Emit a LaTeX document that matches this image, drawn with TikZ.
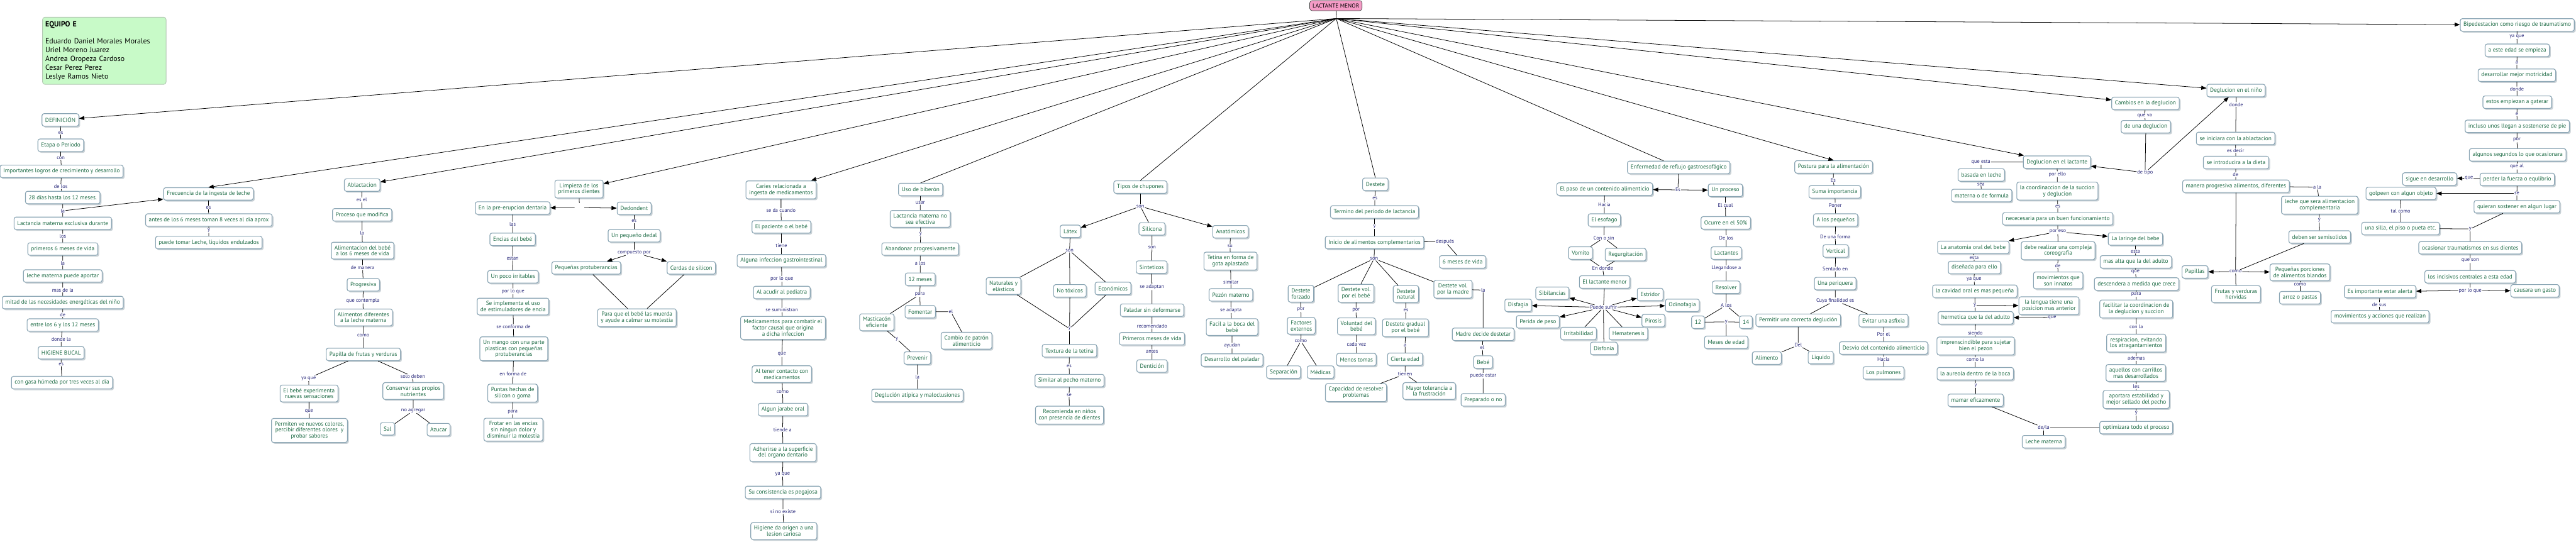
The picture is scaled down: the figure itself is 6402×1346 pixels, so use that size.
\documentclass[tikz,border=0pt]{standalone}
\usepackage{fontspec}
\setmainfont{PT Sans}
\usetikzlibrary{arrows.meta,shadows}
\definecolor{nodetext}{HTML}{1D6B45}
\definecolor{bordc}{HTML}{8AA5B4}
\definecolor{shadowc}{HTML}{C9D1D6}
\definecolor{labc}{HTML}{27277A}
\definecolor{rootfill}{HTML}{F59BC6}
\definecolor{teamfill}{HTML}{C8FAC8}
\definecolor{teamborder}{HTML}{B4C8B4}
\newcommand\cmnodefont{\fontsize{14.5}{15.2}\selectfont}
\newcommand\cmlabfont{\fontsize{13}{14}\selectfont}
\newcommand\cmteamfont{\fontsize{18.5}{21.7}\selectfont}
\begin{document}
\begin{tikzpicture}[x=1pt,y=-1pt,
 cn/.style={draw=bordc, line width=1.8pt, rounded corners=5pt, fill=white, text=nodetext, font=\cmnodefont, align=center, inner xsep=8pt, inner ysep=8pt, minimum height=31pt, drop shadow={shadow xshift=3.5pt, shadow yshift=-3.5pt, fill=shadowc, opacity=1}},
 lab/.style={text=labc, font=\cmlabfont, inner sep=1.2pt},
 ln/.style={line width=1.2pt, draw=black},
 arr/.style={-{Triangle[length=13pt,width=10pt]}}
]
\fill[white] (0,0) rectangle (6402,1346);
\useasboundingbox (0,0) rectangle (6402,1346);

% team box and root
\node[draw=teamborder, line width=1.5pt, fill=teamfill, rounded corners=6pt, anchor=north west, minimum width=307pt, minimum height=167pt, align=left, inner xsep=7pt, inner ysep=8pt, font=\cmteamfont, text=black, text width=293pt] (team) at (105,42) {\textbf{EQUIPO E}\\[21.7pt]Eduardo Daniel Morales Morales\\Uriel Moreno Juarez\\Andrea Oropeza Cardoso\\Cesar Perez Perez\\Leslye Ramos Nieto};
\node[draw=black!75, line width=1pt, fill=rootfill, rounded corners=6pt, font=\cmnodefont, text=black, minimum height=25pt, inner xsep=7pt] (root) at (3320,14) {LACTANTE MENOR};
\coordinate (hub) at (3321,46);

% left column
\node[cn] (defin) at (150,298) {DEFINICIÓN};
\node[lab] (Les1) at (151,330) {es};
\node[cn] (etapa) at (151,361) {Etapa o Periodo};
\node[lab] (Lcon) at (151,393) {con};
\node[cn] (logros) at (153,426) {Importantes logros de crecimiento y desarrollo};
\node[lab] (Ldelos) at (151,464) {de los};
\node[cn] (dias) at (156,491) {28 días hasta los 12 meses.};
\node[lab] (Lla1) at (156,524) {la};
\node[cn] (lactex) at (156,555) {Lactancia materna exclusiva durante};
\node[lab] (Llos) at (156,587) {los};
\node[cn] (prim6) at (156,619) {primeros 6 meses de vida};
\node[lab] (Lla2) at (156,654) {la};
\node[cn] (lecheap) at (156,686) {leche materna puede aportar};
\node[lab] (Lmasde) at (156,721) {mas de la};
\node[cn] (mitad) at (156,752) {mitad de las necesidades energéticas del niño};
\node[lab] (Lde1) at (156,782) {de};
\node[cn] (entre) at (156,808) {entre los 6 y los 12 meses};
\node[lab] (Ldondela) at (152,844) {donde la};
\node[cn] (higiene) at (152,877) {HIGIENE BUCAL};
\node[lab] (Les2) at (152,906) {es};
\node[cn] (gasa) at (154,951) {con gasa húmeda por tres veces al día};

% frecuencia
\node[cn] (frec) at (518,482) {Frecuencia de la ingesta de leche};
\node[lab] (Les3) at (518,516) {es};
\node[cn] (antes) at (519,547) {antes de los 6 meses toman 8 veces al dia aprox};
\node[lab] (Ly1) at (519,573) {y};
\node[cn] (puede) at (519,603) {puede tomar Leche, liquidos endulzados};

% ablactacion
\node[cn] (ablac) at (900,460) {Ablactacion};
\node[lab] (Lesel) at (899,497) {es el};
\node[cn] (proceso) at (900,534) {Proceso que modifica};
\node[lab] (Lla3) at (900,579) {la};
\node[cn] (alimbebe) at (901,623) {Alimentacion del bebé\\a los 6 meses de vida};
\node[lab] (Ldemanera) at (901,665) {de manera};
\node[cn] (progres) at (903,708) {Progresiva};
\node[lab] (Lquecont) at (902,747) {que contempla};
\node[cn] (alimdif) at (903,789) {Alimentos diferentes\\a la leche materna};
\node[lab] (Lcomo1) at (903,834) {como};
\node[cn] (papilla) at (903,881) {Papilla de frutas y verduras};
\node[lab] (Lyaque1) at (767,940) {ya qué};
\node[cn] (experim) at (768,978) {El bebé experimenta\\nuevas sensaciones};
\node[lab] (Lque1) at (768,1022) {que};
\node[cn] (permiten) at (769,1070) {Permiten ve nuevos colores,\\percibir diferentes olores~ y\\probar sabores};
\node[lab] (Lsolo) at (1026,936) {solo deben};
\node[cn] (conserv) at (1027,972) {Conservar sus propios\\nutrientes};
\node[lab] (Lnoagr) at (1027,1021) {no agregar};
\node[cn] (sal) at (963,1066) {Sal};
\node[cn] (azucar) at (1090,1068) {Azucar};

% limpieza
\node[cn] (limp) at (1439,470) {Limpieza de los\\primeros dientes};
\node[minimum width=24pt, minimum height=22pt, inner sep=0pt] (blank) at (1440,516) {};
\node[cn] (preerup) at (1274,517) {En la pre-erupcion dentaria};
\node[lab] (Llas) at (1274,557) {las};
\node[cn] (encias) at (1274,595) {Encias del bebé};
\node[lab] (Lestan) at (1274,642) {estan};
\node[cn] (irrit) at (1275,688) {Un poco irritables};
\node[lab] (Lporloque1) at (1275,724) {por lo que};
\node[cn] (seimpl) at (1275,762) {Se implementa el uso\\de estimuladores de encia};
\node[lab] (Lseconf) at (1276,812) {se conforma de};
\node[cn] (mango) at (1277,867) {Un mango con una parte\\plasticas con pequeñas\\protuberancias};
\node[lab] (Lenforma) at (1275,930) {en forma de};
\node[cn] (puntas) at (1274,977) {Puntas hechas de\\silicon o goma};
\node[lab] (Lpara1) at (1274,1024) {para};
\node[cn] (frotar) at (1276,1068) {Frotar en las encias\\sin ningun dolor y\\disminuir la molestia};
\node[cn] (dedon) at (1576,518) {Dedondent};
\node[lab] (Les4) at (1576,550) {es};
\node[cn] (dedal) at (1576,586) {Un pequeño dedal};
\node[lab] (Lcomp) at (1576,628) {compuesto por};
\node[cn] (protub) at (1457,666) {Pequeñas protuberancias};
\node[cn] (cerdas) at (1718,666) {Cerdas de silicon};
\node[cn] (paraque) at (1583,790) {Para que el bebé las muerda\\y ayude a calmar su molestia};

% caries
\node[cn] (caries) at (1941,472) {Caries relacionada a\\ingesta de medicamentos};
\node[lab] (Lseda) at (1941,523) {se da cuando};
\node[cn] (pacien) at (1942,564) {El paciente o el bebé};
\node[lab] (Ltiene) at (1942,610) {tiene};
\node[cn] (infecc) at (1942,648) {Alguna infeccion gastrointestinal};
\node[lab] (Lporloque2) at (1943,693) {por lo que};
\node[cn] (pediat) at (1943,727) {Al acudir al pediatra};
\node[lab] (Lsesum) at (1943,770) {se suministran};
\node[cn] (medic) at (1946,815) {Medicamentos para combatir el\\factor causal que origina\\a dicha infeccion};
\node[lab] (Lque2) at (1943,881) {que};
\node[cn] (contacto) at (1943,930) {Al tener contacto con\\medicamentos};
\node[lab] (Lcomo2) at (1945,975) {como};
\node[cn] (jarabe) at (1946,1018) {Algun jarabe oral};
\node[lab] (Ltiende) at (1945,1068) {tiende a};
\node[cn] (adher) at (1946,1125) {Adherirse a la superficie\\del organo dentario};
\node[lab] (Lyaque2) at (1945,1179) {ya que};
\node[cn] (consist) at (1946,1224) {Su consistencia es pegajosa};
\node[lab] (Lsino) at (1946,1272) {si no existe};
\node[cn] (higori) at (1948,1320) {Higiene da origen a una\\lesion cariosa};

% biberon
\node[cn] (biber) at (2288,471) {Uso de biberón};
\node[lab] (Lusar) at (2287,504) {usar};
\node[cn] (noefec) at (2287,544) {Lactancia materna no\\sea efectiva};
\node[lab] (Ly2) at (2288,582) {y};
\node[cn] (abandon) at (2287,619) {Abandonar progresivamente};
\node[lab] (Lalos1) at (2287,654) {a los};
\node[cn] (meses12) at (2287,694) {12 meses};
\node[lab] (Lpara2) at (2286,732) {para};
\node[cn] (fomentar) at (2287,775) {Fomentar};
\node[lab] (Lel1) at (2363,775) {el};
\node[cn] (cambiopat) at (2402,847) {Cambio de patrón\\alimenticio};
\node[cn] (mastic) at (2179,801) {Masticacón\\eficiente};
\node[lab] (Ly3) at (2229,843) {y};
\node[cn] (prevenir) at (2280,890) {Prevenir};
\node[lab] (Lla4) at (2280,937) {la};
\node[cn] (deglat) at (2280,983) {Deglución atípica y maloclusiones};

% tipos de chupones
\node[cn] (tipos) at (2834,465) {Tipos de chupones};
\node[lab] (Lson1) at (2834,513) {son};
\node[cn] (latex) at (2660,575) {Látex};
\node[cn] (silic) at (2863,569) {Silicona};
\node[cn] (anat) at (3058,576) {Anatómicos};
\node[lab] (Lson2) at (2658,623) {son};
\node[cn] (natur) at (2494,711) {Naturales y\\elásticos};
\node[cn] (notox) at (2659,723) {No tóxicos};
\node[cn] (econ) at (2766,717) {Económicos};
\node[lab] (Ly4) at (2658,817) {y};
\node[cn] (textura) at (2658,872) {Textura de la tetina};
\node[lab] (Les5) at (2657,910) {es};
\node[cn] (similar) at (2658,946) {Similar al pecho materno};
\node[lab] (Lse1) at (2657,982) {se};
\node[cn] (recom) at (2658,1032) {Recomienda en niños\\con presencia de dientes};
\node[lab] (Lson3) at (2863,615) {son};
\node[cn] (sintet) at (2862,664) {Sinteticos};
\node[lab] (Lseadapt) at (2863,714) {se adaptan};
\node[cn] (paladar) at (2863,771) {Paladar sin deformarse};
\node[lab] (Lrecom) at (2863,811) {recomendado};
\node[cn] (primmes) at (2863,842) {Primeros meses de vida};
\node[lab] (Lantes) at (2863,873) {antes};
\node[cn] (denticion) at (2863,910) {Dentición};
\node[lab] (Lsu) at (3057,612) {su};
\node[cn] (tetina) at (3058,649) {Tetina en forma de\\gota aplastada};
\node[lab] (Lsimilar) at (3059,701) {similar};
\node[cn] (pezon) at (3059,733) {Pezón materno};
\node[lab] (Lseadapta) at (3059,771) {se adapta};
\node[cn] (facil) at (3062,813) {Facil a la boca del\\bebé};
\node[lab] (Layudan) at (3062,859) {ayudan};
\node[cn] (desarpal) at (3062,895) {Desarrollo del paladar};

% destete
\node[cn] (destete) at (3418,458) {Destete};
\node[lab] (Les6) at (3417,493) {es};
\node[cn] (termino) at (3416,527) {Termino del periodo de lactancia};
\node[lab] (Ly5) at (3416,563) {y};
\node[cn] (inicio) at (3416,603) {Inicio de alimentos complementarios};
\node[lab] (Ldespues) at (3591,600) {después};
\node[cn] (meses6) at (3635,651) {6 meses de vida};
\node[lab] (Lson4) at (3415,643) {son};
\node[cn] (forzado) at (3233,730) {Destete\\forzado};
\node[lab] (Lpor1) at (3233,770) {por};
\node[cn] (factores) at (3234,810) {Factores\\externos};
\node[lab] (Lcomo3) at (3233,848) {como};
\node[cn] (separ) at (3190,925) {Separación};
\node[cn] (medicas) at (3282,925) {Médicas};
\node[cn] (volbebe) at (3370,729) {Destete vol.\\por el bebé};
\node[lab] (Lpor2) at (3370,771) {por};
\node[cn] (voluntad) at (3371,811) {Voluntad del\\bebé};
\node[lab] (Lcadavez) at (3371,856) {cada vez};
\node[cn] (menos) at (3371,894) {Menos tomas};
\node[cn] (natural) at (3494,731) {Destete\\natural};
\node[lab] (Les7) at (3494,771) {es};
\node[cn] (gradual) at (3493,815) {Destete gradual\\por el bebé};
\node[lab] (La1) at (3492,858) {a};
\node[cn] (cierta) at (3492,893) {Cierta edad};
\node[lab] (Ltienen) at (3492,930) {tienen};
\node[cn] (capac) at (3370,976) {Capacidad de resolver\\problemas};
\node[cn] (mayor) at (3552,972) {Mayor tolerancia a\\la frustración};
\node[cn] (volmadre) at (3611,719) {Destete vol.\\por la madre};
\node[lab] (Lla5) at (3686,721) {la};
\node[cn] (madre) at (3686,831) {Madre decide destetar};
\node[lab] (Lel2) at (3684,864) {el};
\node[cn] (bebe) at (3686,900) {Bebé};
\node[lab] (Lpuedeestar) at (3686,934) {puede estar};
\node[cn] (preparado) at (3686,994) {Preparado o no};

% reflujo
\node[cn] (erge) at (4172,416) {Enfermedad de reflujo gastroesofágico};
\node[lab] (LEs1) at (4170,472) {Es};
\node[cn] (paso) at (3988,470) {El paso de un contenido alimenticio};
\node[lab] (Lhacia1) at (3987,509) {Hacia};
\node[cn] (esofago) at (3987,547) {El esofago};
\node[lab] (Lconosin) at (3986,591) {Con o sin};
\node[cn] (vomito) at (3928,629) {Vomito};
\node[cn] (regurg) at (4040,633) {Regurgitación};
\node[lab] (Lendonde) at (3983,667) {En donde};
\node[cn] (lactmen) at (3988,701) {El lactante menor};
\node[lab] (Lpuede) at (3985,764) {Puede sufrir};
\node[cn] (sibil) at (3858,729) {Sibilancias};
\node[cn] (disfag) at (3773,759) {Disfagia};
\node[cn] (perida) at (3822,800) {Perida de peso};
\node[cn] (irritab) at (3923,829) {Irritabilidad};
\node[cn] (disfon) at (3986,866) {Disfonía};
\node[cn] (hemat) at (4047,829) {Hematenesis};
\node[cn] (pirosis) at (4109,797) {Pirosis};
\node[cn] (odino) at (4181,759) {Odinofagia};
\node[cn] (estridor) at (4101,732) {Estridor};
\node[cn] (unproc) at (4288,473) {Un proceso};
\node[lab] (Lelcual) at (4288,510) {El cual};
\node[cn] (ocurre) at (4289,554) {Ocurre en el 50\%};
\node[lab] (Ldelos2) at (4290,591) {De los};
\node[cn] (lactantes) at (4290,629) {Lactantes};
\node[lab] (Llleg) at (4290,667) {Llegandose a};
\node[cn] (resolver) at (4290,714) {Resolver};
\node[lab] (Lalos2) at (4290,759) {A los};
\node[cn] (n12) at (4220,801) {12};
\node[cn] (n14) at (4339,801) {14};
\node[lab] (Ly6) at (4290,800) {y};
\node[cn] (mesesedad) at (4290,851) {Meses de edad};

% postura
\node[cn] (postura) at (4557,415) {Postura para la alimentación};
\node[lab] (LEs2) at (4556,448) {Es};
\node[cn] (suma) at (4560,477) {Suma importancia};
\node[lab] (Lponer) at (4561,510) {Poner};
\node[cn] (pequenos) at (4562,547) {A los pequeños};
\node[lab] (Ldeuna) at (4561,588) {De una forma};
\node[cn] (vertical) at (4562,624) {Vertical};
\node[lab] (Lsentado) at (4561,669) {Sentado en};
\node[cn] (periquera) at (4561,705) {Una periquera};
\node[lab] (Lcuya) at (4561,747) {Cuya finalidad es};
\node[cn] (permitir) at (4469,796) {Permitir una correcta deglución};
\node[lab] (Ldel) at (4469,858) {Del};
\node[cn] (alimento) at (4391,890) {Alimento};
\node[cn] (liquido) at (4525,889) {Liquido};
\node[cn] (evitar) at (4681,797) {Evitar una asfixia};
\node[lab] (Lporel) at (4681,831) {Por el};
\node[cn] (desvio) at (4681,865) {Desvio del contenido alimenticio};
\node[lab] (Lhacia2) at (4681,893) {Hacia};
\node[cn] (pulmones) at (4681,927) {Los pulmones};

% deglucion lactante
\node[cn] (deglac) at (5112,403) {Deglucion en el lactante};
\node[lab] (Lqueesta) at (4923,403) {que esta};
\node[cn] (basada) at (4924,435) {basada en leche};
\node[lab] (Lsea) at (4923,458) {sea};
\node[cn] (materna) at (4925,486) {materna o de formula};
\node[lab] (Lporello) at (5113,433) {por ello};
\node[cn] (coord) at (5113,475) {la coordinaccion de la succion\\y deglucion};
\node[lab] (Les8) at (5114,513) {es};
\node[cn] (necesaria) at (5114,544) {nececesaria para un buen funcionamiento};
\node[lab] (Lporeso) at (5114,576) {por eso};
\node[cn] (anatomia) at (4904,615) {La anatomia oral del bebe};
\node[lab] (Lesta1) at (4906,640) {esta};
\node[cn] (disenada) at (4907,665) {diseñada para ello};
\node[lab] (Lyaque3) at (4906,694) {ya que};
\node[cn] (cavidad) at (4908,724) {la cavidad oral es mas pequeña};
\node[lab] (Ly7) at (4908,759) {y};
\node[cn] (lengua) at (5092,760) {la lengua tiene una\\posicion mas anterior};
\node[lab] (Lque3) at (5100,789) {que};
\node[cn] (hermet) at (4910,790) {hermetica que la del adulto};
\node[lab] (Lsiendo) at (4909,827) {siendo};
\node[cn] (impresc) at (4910,860) {imprenscindible para sujetar\\bien el pezon};
\node[lab] (Lcomola) at (4909,894) {como la};
\node[cn] (aureola) at (4909,929) {la aureola dentro de la boca};
\node[lab] (Ly8) at (4910,958) {y};
\node[cn] (mamar) at (4910,995) {mamar eficazmente};
\node[lab] (Ldela) at (5079,1063) {de/la};
\node[cn] (lechemat) at (5079,1098) {Leche materna};
\node[cn] (debe) at (5115,623) {debe realizar una compleja\\coreografía};
\node[lab] (Lde2) at (5114,660) {de};
\node[cn] (movinn) at (5115,697) {movimientos que\\son innatos};
\node[cn] (laringe) at (5307,594) {La laringe del bebe};
\node[lab] (Lesta2) at (5307,625) {esta};
\node[cn] (masalta) at (5308,651) {mas alta que la del adulto};
\node[lab] (Lque4) at (5307,676) {que};
\node[cn] (descend) at (5310,706) {descendera a medida que crece};
\node[lab] (Lpara3) at (5309,732) {para};
\node[cn] (facilit) at (5309,768) {facilitar la coordinacion de\\la deglucion y succion};
\node[lab] (Lconla) at (5309,812) {con la};
\node[cn] (respir) at (5309,853) {respiracion, evitando\\los atragantamientos};
\node[lab] (Lademas) at (5309,891) {ademas};
\node[cn] (aquellos) at (5308,927) {aquellos con carrillos\\mas desarrollados};
\node[lab] (Lles) at (5309,961) {les};
\node[cn] (aportara) at (5309,993) {aportara estabilidad y\\mejor sellado del pecho};
\node[lab] (Ly9) at (5309,1027) {y};
\node[cn] (optim) at (5309,1063) {optimizara todo el proceso};

% cambios
\node[cn] (cambios) at (5332,257) {Cambios en la deglucion};
\node[lab] (Lqueva) at (5330,288) {que va};
\node[cn] (deuna) at (5333,315) {de una deglucion};
\node[lab] (Ldetipo) at (5331,429) {de tipo};

% deglucion nino
\node[cn] (degnino) at (5557,225) {Deglucion en el niño};
\node[lab] (Ldonde1) at (5557,260) {donde};
\node[cn] (iniciara) at (5556,344) {se iniciara con la ablactacion};
\node[lab] (Lesdecir) at (5556,374) {es decir};
\node[cn] (introd) at (5557,404) {se introducira a la dieta};
\node[lab] (Lde3) at (5556,434) {de};
\node[cn] (manera) at (5557,463) {manera progresiva alimentos, diferentes};
\node[lab] (Lala) at (5759,465) {a la};
\node[cn] (lechesera) at (5765,510) {leche que sera alimentacion\\complementaria};
\node[lab] (Ly10) at (5764,547) {y};
\node[cn] (semisol) at (5765,589) {deben ser semisolidos};
\node[lab] (Lcomo4) at (5556,675) {como};
\node[cn] (papillas) at (5455,676) {Papillas};
\node[cn] (porciones) at (5716,677) {Pequeñas porciones\\de alimentos blandos};
\node[cn] (frutas) at (5557,731) {Frutas y verduras\\hervidas};
\node[lab] (Lcomo5) at (5716,707) {como};
\node[cn] (arroz) at (5716,740) {arroz o pastas};

% bipedestacion
\node[cn] (biped) at (6256,62) {Bipedestacion como riesgo de traumatismo};
\node[lab] (Lyaque4) at (6255,91) {ya que};
\node[cn] (edad) at (6256,125) {a este edad se empieza};
\node[lab] (La2) at (6255,156) {a};
\node[cn] (motric) at (6255,187) {desarrollar mejor motricidad};
\node[lab] (Ldonde2) at (6255,221) {donde};
\node[cn] (gaterar) at (6256,254) {estos empiezan a gaterar};
\node[lab] (Le) at (6255,284) {e};
\node[cn] (incluso) at (6256,314) {incluso unos llegan a sostenerse de pie};
\node[lab] (Lpor3) at (6255,348) {por};
\node[cn] (segundos) at (6257,385) {algunos segundos lo que ocasionara};
\node[lab] (Lqueal) at (6255,414) {que al};
\node[cn] (perder) at (6256,446) {perder la fuerza o equlibrio};
\node[lab] (Lque5) at (6136,443) {que};
\node[cn] (sigue) at (6038,445) {sigue en desarrollo};
\node[lab] (Lse2) at (6255,481) {se};
\node[cn] (golpeen) at (5967,481) {golpeen con algun objeto};
\node[lab] (Ltalcomo) at (5966,524) {tal como};
\node[cn] (silla) at (5966,568) {una silla, el piso o pueta etc.};
\node[cn] (quieran) at (6255,514) {quieran sostener en algun lugar};
\node[lab] (Ly11) at (6139,569) {y};
\node[cn] (ocasion) at (6139,616) {ocasionar traumatismos en sus dientes};
\node[lab] (Lqueson) at (6139,648) {que son};
\node[cn] (incisivos) at (6139,688) {los incisivos centrales a esta edad};
\node[lab] (Lporloque3) at (6139,722) {por lo que};
\node[cn] (alerta) at (5915,725) {Es importante estar alerta};
\node[lab] (Ldesus) at (5913,757) {de sus};
\node[cn] (movacc) at (5915,787) {movimientos y acciones que realizan};
\node[cn] (gasto) at (6300,723) {causara un gasto};

% ---------------- connectors ----------------
\draw[ln] (root) -- (hub);
\draw[ln,arr] (hub) -- (defin);
\draw[ln,arr] (hub) -- (frec.north);
\draw[ln,arr] (hub) -- (ablac);
\draw[ln,arr] (hub) -- (limp);
\draw[ln,arr] (hub) -- (caries);
\draw[ln] (hub) -- (biber.north);
\draw[ln] (hub) -- (tipos.north);
\draw[ln] (hub) -- (destete.north);
\draw[ln] (hub) -- (erge);
\draw[ln,arr] (hub) -- (postura.north);
\draw[ln,arr] (hub) -- (deglac);
\draw[ln,arr] (hub) -- (cambios);
\draw[ln,arr] (hub) -- (degnino);
\draw[ln,arr] (hub) -- (biped);

\draw[ln] (defin) -- (Les1) -- (etapa) -- (Lcon) -- (logros) -- (Ldelos) -- (dias) -- (Lla1) -- (lactex) -- (Llos) -- (prim6) -- (Lla2) -- (lecheap) -- (Lmasde) -- (mitad) -- (Lde1) -- (entre) -- (Ldondela) -- (higiene) -- (Les2) -- (gasa);
\draw[ln,arr] (Lla1) -- (frec);
\draw[ln] (frec) -- (Les3) -- (antes) -- (Ly1) -- (puede);

\draw[ln] (ablac) -- (Lesel) -- (proceso) -- (Lla3) -- (alimbebe) -- (Ldemanera) -- (progres) -- (Lquecont) -- (alimdif) -- (Lcomo1) -- (papilla);
\draw[ln] (papilla) -- (Lyaque1) -- (experim) -- (Lque1) -- (permiten);
\draw[ln] (papilla) -- (Lsolo) -- (conserv) -- (Lnoagr) -- (sal);
\draw[ln] (Lnoagr) -- (azucar);

\draw[ln] (limp) -- (blank);
\draw[ln,arr] (blank) -- (preerup);
\draw[ln,arr] (blank) -- (dedon);
\draw[ln] (preerup) -- (Llas) -- (encias) -- (Lestan) -- (irrit) -- (Lporloque1) -- (seimpl) -- (Lseconf) -- (mango) -- (Lenforma) -- (puntas) -- (Lpara1) -- (frotar);
\draw[ln] (dedon) -- (Les4) -- (dedal) -- (Lcomp);
\draw[ln,arr] (Lcomp) -- (protub);
\draw[ln,arr] (Lcomp) -- (cerdas);
\draw[ln] (protub) -- (paraque);
\draw[ln] (cerdas) -- (paraque);

\draw[ln] (caries) -- (Lseda) -- (pacien) -- (Ltiene) -- (infecc) -- (Lporloque2) -- (pediat) -- (Lsesum) -- (medic) -- (Lque2) -- (contacto) -- (Lcomo2) -- (jarabe) -- (Ltiende) -- (adher) -- (Lyaque2) -- (consist) -- (Lsino) -- (higori);

\draw[ln] (biber) -- (Lusar) -- (noefec) -- (Ly2) -- (abandon) -- (Lalos1) -- (meses12) -- (Lpara2) -- (fomentar) -- (Lel1) -- (cambiopat);
\draw[ln] (Lpara2) -- (mastic) -- (Ly3) -- (prevenir) -- (Lla4) -- (deglat);

\draw[ln] (tipos) -- (Lson1);
\draw[ln,arr] (Lson1) -- (latex);
\draw[ln] (Lson1) -- (silic);
\draw[ln,arr] (Lson1) -- (anat);
\draw[ln] (latex) -- (Lson2);
\draw[ln] (Lson2) -- (natur) -- (Ly4);
\draw[ln] (Lson2) -- (notox) -- (Ly4);
\draw[ln] (Lson2) -- (econ) -- (Ly4);
\draw[ln] (Ly4) -- (textura) -- (Les5) -- (similar) -- (Lse1) -- (recom);
\draw[ln] (silic) -- (Lson3) -- (sintet) -- (Lseadapt) -- (paladar) -- (Lrecom) -- (primmes) -- (Lantes) -- (denticion);
\draw[ln] (anat) -- (Lsu) -- (tetina) -- (Lsimilar) -- (pezon) -- (Lseadapta) -- (facil) -- (Layudan) -- (desarpal);

\draw[ln] (destete) -- (Les6) -- (termino) -- (Ly5) -- (inicio) -- (Ldespues) -- (meses6);
\draw[ln] (inicio) -- (Lson4);
\draw[ln] (Lson4) -- (forzado);
\draw[ln] (Lson4) -- (volbebe);
\draw[ln] (Lson4) -- (natural);
\draw[ln] (Lson4) -- (volmadre);
\draw[ln] (forzado) -- (Lpor1) -- (factores) -- (Lcomo3) -- (separ);
\draw[ln] (Lcomo3) -- (medicas);
\draw[ln] (volbebe) -- (Lpor2) -- (voluntad) -- (Lcadavez) -- (menos);
\draw[ln] (natural) -- (Les7) -- (gradual) -- (La1) -- (cierta) -- (Ltienen) -- (capac);
\draw[ln] (Ltienen) -- (mayor);
\draw[ln] (volmadre) -- (Lla5) -- (madre) -- (Lel2) -- (bebe) -- (Lpuedeestar) -- (preparado);

\draw[ln] (erge) -- (LEs1);
\draw[ln,arr] (LEs1) -- (paso);
\draw[ln,arr] (LEs1) -- (unproc);
\draw[ln] (paso) -- (Lhacia1) -- (esofago) -- (Lconosin) -- (vomito) -- (Lendonde) -- (lactmen) -- (Lpuede);
\draw[ln] (Lconosin) -- (regurg) -- (Lendonde);
\draw[ln,arr] (Lpuede) -- (sibil);
\draw[ln,arr] (Lpuede) -- (disfag);
\draw[ln,arr] (Lpuede) -- (perida);
\draw[ln,arr] (Lpuede) -- (estridor);
\draw[ln,arr] (Lpuede) -- (odino);
\draw[ln,arr] (Lpuede) -- (pirosis);
\draw[ln] (Lpuede) -- (irritab);
\draw[ln] (Lpuede) -- (disfon);
\draw[ln] (Lpuede) -- (hemat);
\draw[ln] (unproc) -- (Lelcual) -- (ocurre) -- (Ldelos2) -- (lactantes) -- (Llleg) -- (resolver) -- (Lalos2) -- (n12) -- (Ly6) -- (mesesedad);
\draw[ln] (Lalos2) -- (n14) -- (Ly6);

\draw[ln] (postura) -- (LEs2) -- (suma) -- (Lponer) -- (pequenos) -- (Ldeuna) -- (vertical) -- (Lsentado) -- (periquera) -- (Lcuya) -- (permitir) -- (Ldel) -- (alimento);
\draw[ln] (Ldel) -- (liquido);
\draw[ln] (Lcuya) -- (evitar) -- (Lporel) -- (desvio) -- (Lhacia2) -- (pulmones);

\draw[ln] (deglac) -- (Lqueesta) -- (basada) -- (Lsea) -- (materna);
\draw[ln] (deglac) -- (Lporello) -- (coord) -- (Les8) -- (necesaria) -- (Lporeso);
\draw[ln,arr] (Lporeso) -- (anatomia);
\draw[ln] (Lporeso) -- (debe);
\draw[ln,arr] (Lporeso) -- (laringe);
\draw[ln] (anatomia) -- (Lesta1) -- (disenada) -- (Lyaque3) -- (cavidad) -- (Ly7) -- (hermet) -- (Lsiendo) -- (impresc) -- (Lcomola) -- (aureola) -- (Ly8) -- (mamar) -- (Ldela) -- (lechemat);
\draw[ln,arr] (Ly7) -- (lengua);
\draw[ln] (lengua) -- (Lque3);
\draw[ln,arr] (Lque3) -- (hermet);
\draw[ln] (debe) -- (Lde2) -- (movinn);
\draw[ln] (laringe) -- (Lesta2) -- (masalta) -- (Lque4) -- (descend) -- (Lpara3) -- (facilit) -- (Lconla) -- (respir) -- (Lademas) -- (aquellos) -- (Lles) -- (aportara) -- (Ly9) -- (optim) -- (Ldela);

\draw[ln] (cambios) -- (Lqueva) -- (deuna) -- (Ldetipo);
\draw[ln,arr] (Ldetipo) -- (deglac);
\draw[ln,arr] (Ldetipo) -- (degnino);

\draw[ln] (degnino) -- (Ldonde1) -- (iniciara) -- (Lesdecir) -- (introd) -- (Lde3) -- (manera) -- (Lala) -- (lechesera) -- (Ly10) -- (semisol) -- (Lcomo4);
\draw[ln] (manera) -- (Lcomo4);
\draw[ln,arr] (Lcomo4) -- (papillas);
\draw[ln,arr] (Lcomo4) -- (porciones);
\draw[ln] (Lcomo4) -- (frutas);
\draw[ln] (porciones) -- (Lcomo5) -- (arroz);

\draw[ln] (biped) -- (Lyaque4) -- (edad) -- (La2) -- (motric) -- (Ldonde2) -- (gaterar) -- (Le) -- (incluso) -- (Lpor3) -- (segundos) -- (Lqueal) -- (perder) -- (Lque5);
\draw[ln,arr] (Lque5) -- (sigue);
\draw[ln] (perder) -- (Lse2) -- (quieran) -- (Ly11);
\draw[ln,arr] (Lse2) -- (golpeen);
\draw[ln] (golpeen) -- (Ltalcomo) -- (silla) -- (Ly11) -- (ocasion) -- (Lqueson) -- (incisivos) -- (Lporloque3);
\draw[ln,arr] (Lporloque3) -- (alerta);
\draw[ln,arr] (Lporloque3) -- (gasto);
\draw[ln] (alerta) -- (Ldesus) -- (movacc);
\end{tikzpicture}
\end{document}
